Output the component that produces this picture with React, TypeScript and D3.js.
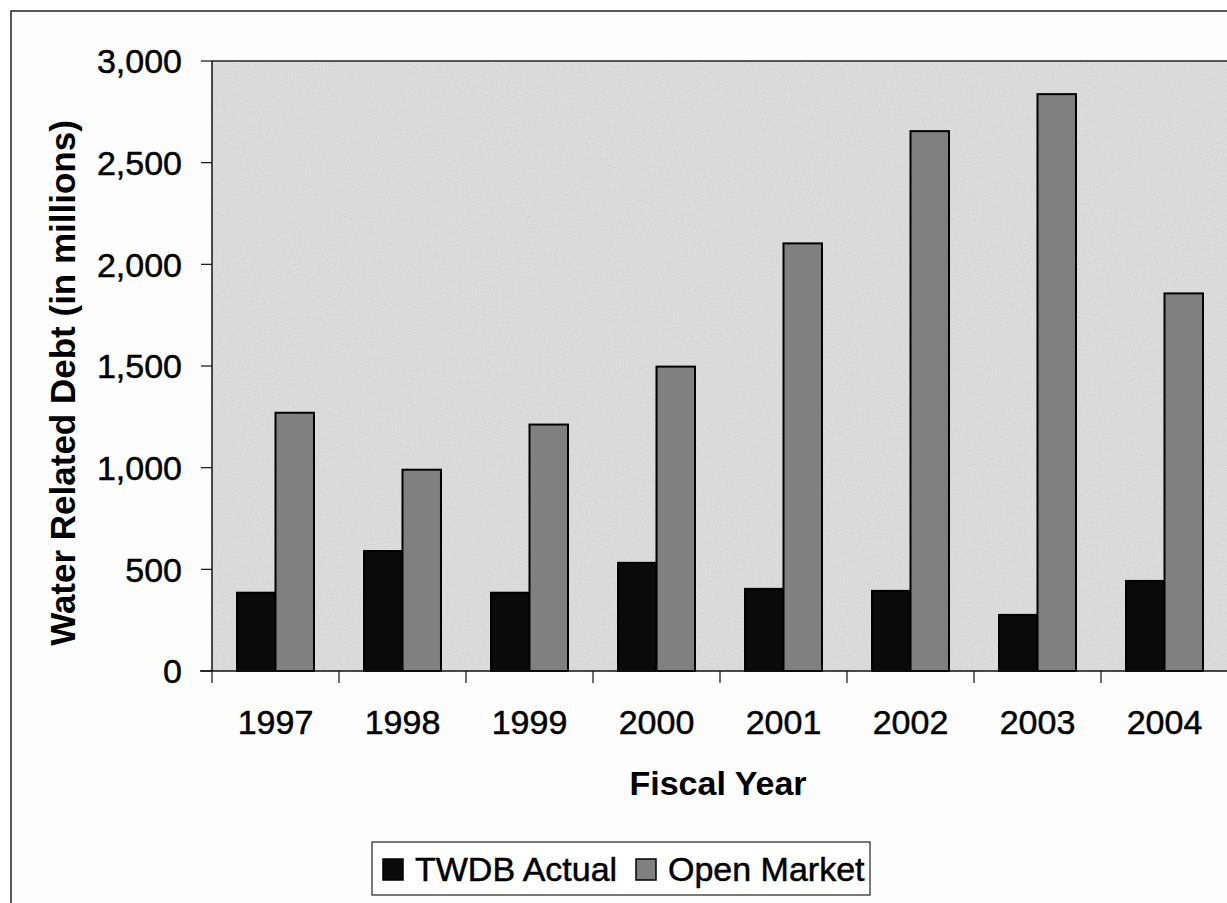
import React from 'react';
import * as d3 from 'd3';

const years = ['1997', '1998', '1999', '2000', '2001', '2002', '2003', '2004'];
const twdbActual = [385, 590, 385, 532, 404, 394, 276, 443];
const openMarket = [1270, 990, 1212, 1497, 2103, 2655, 2837, 1857];
const seriesNames = ['TWDB Actual', 'Open Market'];
const yTicks = [0, 500, 1000, 1500, 2000, 2500, 3000];

const W = 1227;
const H = 903;
const margin = { left: 212, top: 61, right: 0, bottom: 232 };
const font = '"Liberation Sans", Arial, sans-serif';

export default function App() {
  const plotW = 1016;
  const plotH = H - margin.top - margin.bottom;

  const x = d3.scaleBand<string>()
    .domain(years)
    .range([0, plotW])
    .paddingInner(0)
    .paddingOuter(0);

  // gap width 130% like excel: two bars + 1.3 bar of gap per category
  const barW = x.bandwidth() / 3.3;
  const gap = barW * 0.65;

  const y = d3.scaleLinear()
    .domain([0, 3000])
    .range([plotH, 0]);

  const fmt = d3.format(',');
  const fills = ['#0a0a0a', '#808080'];
  const data = [twdbActual, openMarket];

  // scanned text looks a bit heavier than plain arial
  const ink = { fill: '#000', stroke: '#000', strokeWidth: 0.5 };

  return (
    <svg
      width={W}
      height={H}
      style={{ position: 'absolute', left: 0, top: 0, background: '#fff' }}
    >
      <defs>
        <filter id="speckle" x="0" y="0" width="100%" height="100%">
          <feTurbulence type="fractalNoise" baseFrequency="0.9" numOctaves="2" seed="3" result="noise" />
          <feColorMatrix type="saturate" values="0" in="noise" result="gray" />
          <feComponentTransfer in="gray" result="soft">
            <feFuncA type="table" tableValues="0 0.25" />
          </feComponentTransfer>
          <feComposite in="soft" in2="SourceGraphic" operator="over" />
        </filter>
      </defs>

      {/* chart area border */}
      <rect x={11} y={11} width={1300} height={1000} fill="#fdfdfd" stroke="#222" strokeWidth={1.5} />

      <g transform={`translate(${margin.left},${margin.top})`}>
        <rect x={0} y={0} width={plotW + 10} height={plotH} fill="#dedede" filter="url(#speckle)" />
        <line x1={0} x2={plotW + 10} y1={0} y2={0} stroke="#222" strokeWidth={1.5} />

        {years.map((yr, i) => (
          <g key={yr} transform={`translate(${x(yr)},0)`}>
            {data.map((s, j) => (
              <rect
                key={j}
                x={gap + j * barW}
                y={y(s[i])}
                width={barW}
                height={plotH - y(s[i])}
                fill={fills[j]}
                stroke="#000"
                strokeWidth={2}
              />
            ))}
          </g>
        ))}

        {/* y axis */}
        <line x1={0} x2={0} y1={0} y2={plotH} stroke="#111" strokeWidth={1.5} />
        {yTicks.map((t) => (
          <g key={t} transform={`translate(0,${y(t)})`}>
            <line x1={-11} x2={0} stroke="#111" strokeWidth={1.2} />
            <text
              x={-30}
              dy="0.36em"
              textAnchor="end"
              fontFamily={font}
              fontSize={34}
              {...ink}
            >
              {fmt(t)}
            </text>
          </g>
        ))}

        {/* x axis */}
        <line x1={-12} x2={plotW + 10} y1={plotH} y2={plotH} stroke="#111" strokeWidth={1.5} />
        {years.map((yr) => (
          <line
            key={'t' + yr}
            x1={x(yr)!}
            x2={x(yr)!}
            y1={plotH}
            y2={plotH + 12}
            stroke="#111"
            strokeWidth={1.2}
          />
        ))}
        {years.map((yr) => (
          <text
            key={'l' + yr}
            x={x(yr)! + x.bandwidth() / 2}
            y={plotH + 63}
            textAnchor="middle"
            fontFamily={font}
            fontSize={34}
            {...ink}
          >
            {yr}
          </text>
        ))}
      </g>

      {/* axis titles */}
      <text
        transform={`translate(75,383) rotate(-90)`}
        textAnchor="middle"
        fontFamily={font}
        fontSize={35}
        fontWeight="bold"
        fill="#000"
      >
        Water Related Debt (in millions)
      </text>
      <text
        x={718}
        y={795}
        textAnchor="middle"
        fontFamily={font}
        fontSize={34}
        fontWeight="bold"
        fill="#000"
      >
        Fiscal Year
      </text>

      {/* legend */}
      <g transform="translate(372,842)">
        <rect x={0} y={0} width={498} height={53} fill="#fff" stroke="#222" strokeWidth={1.2} />
        {seriesNames.map((name, j) => (
          <g key={name} transform={`translate(${j === 0 ? 11 : 264},0)`}>
            <rect x={0} y={17} width={20} height={21} fill={fills[j]} stroke="#000" strokeWidth={1.5} />
            <text x={32} y={39} fontFamily={font} fontSize={34} {...ink}>
              {name}
            </text>
          </g>
        ))}
      </g>
    </svg>
  );
}
